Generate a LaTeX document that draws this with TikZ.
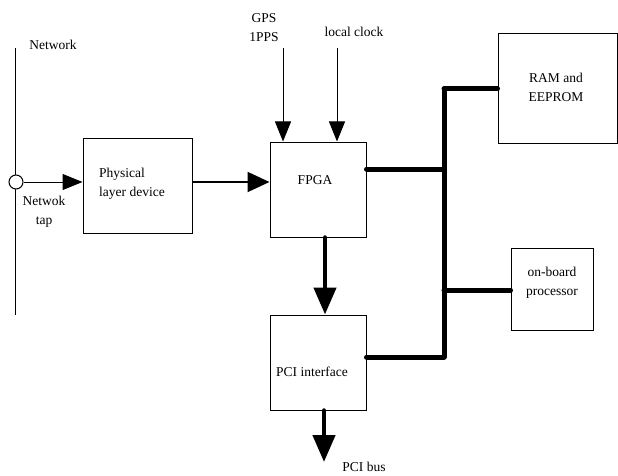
\documentclass[tikz,border=0pt]{standalone}
\usepackage{fontspec}
\setmainfont{Liberation Serif}
\usetikzlibrary{arrows.meta}
\begin{document}
\begin{tikzpicture}[x=1pt,y=-1pt,
  box/.style={draw, line width=1pt, inner sep=0pt},
  lbl/.style={font=\fontsize{13.5}{19}\selectfont, inner sep=0pt, align=center},
  thin/.style={line width=1pt},
  bus/.style={line width=5pt, line cap=round},
  fat/.style={line width=4.5pt, -{Triangle[length=27pt,width=22pt]}},
  med/.style={line width=2pt, -{Triangle[length=22pt,width=20pt]}},
  sig/.style={line width=1pt, -{Triangle[length=20pt,width=16pt]}}]
\useasboundingbox (0,0) rectangle (618,476);
% boxes
\node[box, minimum width=109pt, minimum height=95pt] (phy) at (137.5,185.5) {};
\node[box, minimum width=96pt, minimum height=95pt] (fpga) at (318,189.5) {};
\node[box, minimum width=96pt, minimum height=95pt] (pci) at (318,362.5) {};
\node[box, minimum width=119pt, minimum height=109pt] (ram) at (557.5,88.5) {};
\node[box, minimum width=82pt, minimum height=82pt] (proc) at (552,289) {};
% texts
\node[lbl, anchor=west, align=left] (phyt) at (99,183.5) {Physical\\layer device};
\node[lbl] (fpgat) at (315,180) {FPGA};
\node[lbl, anchor=west] (pcit) at (276,372) {PCI interface};
\node[lbl] (ramt) at (556,87) {RAM and\\EEPROM};
\node[lbl] (proct) at (552,282.5) {on-board\\processor};
\node[lbl] (pcibus) at (364,467) {PCI bus};
\node[lbl] (gps) at (264,27.5) {GPS\\1PPS};
\node[lbl] (clk) at (354,32) {local clock};
\node[lbl] (net) at (53,45) {Network};
\node[lbl] (tapt) at (44,212) {Netwok\\tap};
% network line and tap
\coordinate (nt) at (15,48);
\coordinate (nb) at (15,315);
\draw[thin] (nt) -- (nb);
\node[draw, thin, fill=white, circle, minimum size=14pt, inner sep=0pt] (tap) at (16,182) {};
\draw[sig] (tap.east) -- (tap -| phy.west);
\draw[med] (tap -| phy.east) -- (tap -| fpga.west);
% clock inputs
\coordinate (g1) at (283,48);
\coordinate (c1) at (337,48);
\draw[sig] (g1) -- (g1 |- fpga.north);
\draw[sig] (c1) -- (c1 |- fpga.north);
% bus
\coordinate (b1) at (444,89);
\coordinate (b2) at (444,357);
\coordinate (j1) at (444,169);
\coordinate (j2) at (444,290);
\draw[bus] (b1) -- (b2);
\draw[bus] (b1) -- (b1 -| ram.west);
\draw[bus] (fpga.east |- j1) -- (j1);
\draw[bus] (j2) -- (j2 -| proc.west);
\draw[bus] (pci.east |- b2) -- (b2);
% vertical data arrows
\coordinate (v) at (325,0);
\coordinate (pb) at (324,462);
\draw[fat, line cap=round] (fpga.south -| v) -- (pci.north -| v);
\draw[fat, line cap=round] (pci.south -| pb) -- (pb);
\end{tikzpicture}
\end{document}
